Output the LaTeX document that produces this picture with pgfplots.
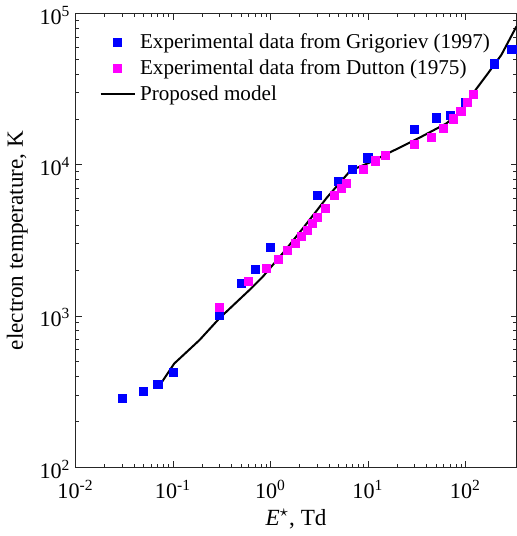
\documentclass[border=0pt]{standalone}
\usepackage{fontspec}
\setmainfont{Liberation Serif}
\usepackage{pgfplots}
\pgfplotsset{compat=1.18}
\definecolor{mblue}{rgb}{0,0,1}
\definecolor{mmag}{rgb}{1,0,1}
\begin{document}
\begin{tikzpicture}
\begin{loglogaxis}[
  scale only axis,
  width=219pt, height=225pt,
  xmin=0.01, xmax=335, ymin=100, ymax=100000,
  axis line style={black!85},
  every tick/.style={black!85},
  tick align=inside,
  major tick length=3pt, minor tick length=1.7pt,
  xtick={0.01,0.1,1,10,100},
  xticklabels={10\textsuperscript{-2},10\textsuperscript{-1},10\textsuperscript{0},10\textsuperscript{1},10\textsuperscript{2}},
  ytick={100,1000,10000,100000},
  yticklabels={10\textsuperscript{2},10\textsuperscript{3},10\textsuperscript{4},10\textsuperscript{5}},
  tick label style={font=\fontsize{11}{13}\selectfont},
  xticklabel style={yshift=-3pt},
  yticklabel style={yshift=-1pt, xshift=1pt},
  label style={font=\fontsize{11.5}{13}\selectfont},
  xlabel style={yshift=1.5pt},
  ylabel style={yshift=-1pt},
  xlabel={\textit{E}\textsuperscript{$\star$}, Td},
  ylabel={electron temperature, K},
  legend style={at={(0.04,0.975)}, anchor=north west, draw=none, fill=none,
    font=\fontsize{10.5}{12.5}\selectfont, row sep=0pt},
  legend cell align=left,
]
\addplot[only marks, mark=square*, mark size=2pt, color=mblue] coordinates {
(0.03,284) (0.05,316) (0.07,352) (0.1,423) (0.3,1016) (0.5,1635) (0.7,2036)
(1,2853) (3,6240) (5,7780) (7,9400) (10,11130) (30,17190) (50,20480)
(70,21330) (100,25900) (200,46640) (300,57820)
};
\addlegendentry{Experimental data from Grigoriev (1997)}
\addplot[only marks, mark=square*, mark size=2pt, color=mmag] coordinates {
(0.3,1135) (0.6,1694) (0.9,2056) (1.2,2372) (1.5,2698) (1.8,3020) (2.1,3364)
(2.4,3705) (2.7,4085) (3,4520) (3.65,5170) (4.5,6240) (5.4,7030) (6,7590)
(9,9360) (12,10630) (15,11530) (30,13650) (45,15200) (60,17380) (75,20170)
(90,22560) (105,25900) (120,29420)
};
\addlegendentry{Experimental data from Dutton (1975)}
\addplot[black, line width=1pt] coordinates {
(0.0703,335) (0.103,484) (0.187,692) (0.30,966) (0.612,1490) (0.84,1828)
(1.35,2618) (2.18,3843) (3.80,6085) (6.61,9160) (10.2,10310) (21.7,13130)
(34.9,15300) (63.4,18770) (94.2,23010) (119.5,29720) (170.6,40420)
(234,53520) (335,82800)
};
\addlegendentry{Proposed model}
\end{loglogaxis}
\end{tikzpicture}
\end{document}
